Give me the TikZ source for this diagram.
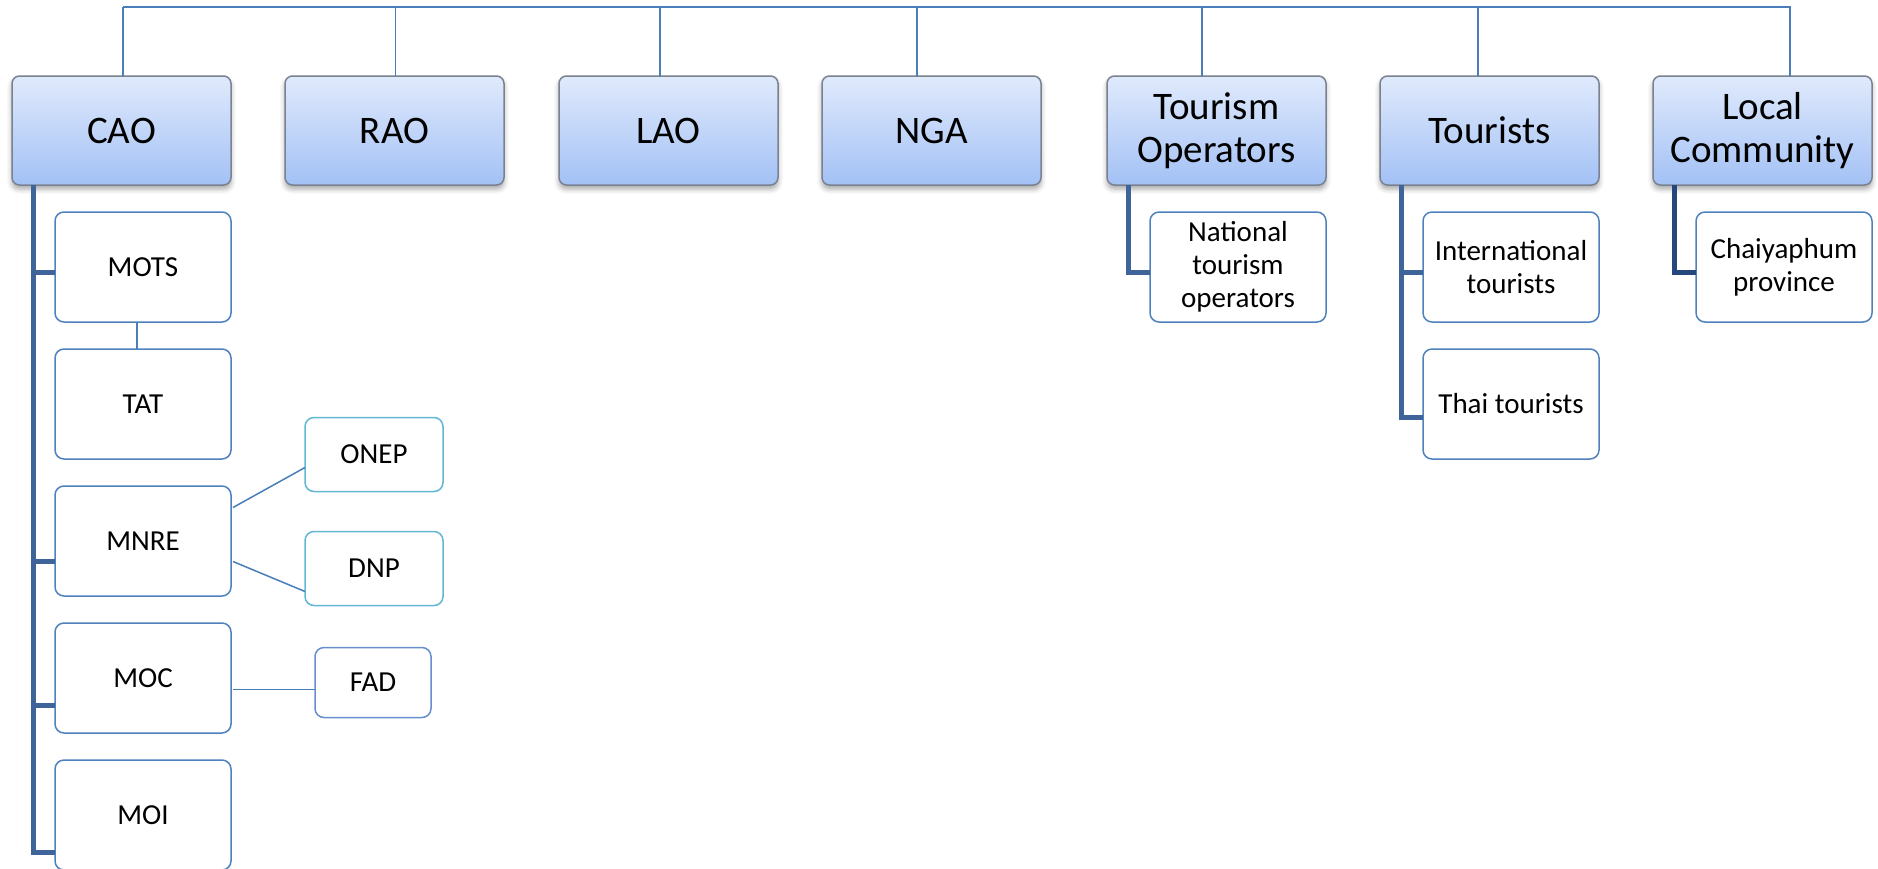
\documentclass[tikz,border=0pt]{standalone}
\usepackage{fontspec}
\setmainfont{Carlito}
\usetikzlibrary{positioning,shadows.blur}

\definecolor{linkblue}{RGB}{74,126,187}
\definecolor{trunkblue}{RGB}{62,100,153}
\definecolor{trunknavy}{RGB}{36,72,126}
\definecolor{headtop}{RGB}{224,234,252}
\definecolor{headbot}{RGB}{163,193,245}
\definecolor{headrim}{RGB}{122,130,145}
\definecolor{kidrim}{RGB}{79,129,189}
\definecolor{subrim}{RGB}{98,184,212}
\definecolor{fadrim}{RGB}{104,142,206}

\begin{document}
\begin{tikzpicture}[node distance=27pt]
    \tikzstyle{head} = [rectangle, draw=headrim, line width=0.75pt, top color=headtop, bottom color=headbot, rounded corners=3.75pt, outer sep=0pt, minimum width=109.5pt, minimum height=54.5pt, align=center, font=\fontsize{19.5pt}{21.5pt}\selectfont, blur shadow={shadow xshift=0pt, shadow yshift=-2pt, shadow blur radius=2.5pt, shadow opacity=35}]
    \tikzstyle{kid} = [rectangle, draw=kidrim, line width=0.75pt, fill=white, rounded corners=4.5pt, outer sep=0pt, minimum width=88pt, minimum height=55pt, align=center, font=\fontsize{14.5pt}{16.5pt}\selectfont]
    \tikzstyle{sub} = [kid, draw=subrim, minimum width=69pt, minimum height=37pt]
    \tikzstyle{link} = [draw=linkblue, line width=0.75pt]
    \tikzstyle{trunk} = [draw=trunkblue, line width=2.5pt]

    \useasboundingbox (0,0) rectangle (939pt,-434pt);

    \node [head] (cao) at (60.75pt,-65.25pt) {CAO};
    \node [head, right=of cao] (rao) {RAO};
    \node [head, right=27.5pt of rao] (lao) {LAO};
    \node [head, right=22pt of lao] (nga) {NGA};
    \node [head, right=33pt of nga] (ops) {Tourism\\Operators};
    \node [head, right=of ops] (tourists) {Tourists};
    \node [head, right=of tourists] (local) {Local\\Community};

    \node [kid, below=13.5pt of cao.south east, anchor=north east] (mots) {MOTS};
    \node [kid, below=13.5pt of mots] (tat) {TAT};
    \node [kid, below=13.5pt of tat] (mnre) {MNRE};
    \node [kid, below=13.5pt of mnre] (moc) {MOC};
    \node [kid, below=13.5pt of moc] (moi) {MOI};

    \node [sub, right=37pt of mnre, yshift=43.25pt] (onep) {ONEP};
    \node [sub, right=37pt of mnre, yshift=-13.75pt] (dnp) {DNP};
    \node [sub, draw=fadrim, minimum width=58pt, minimum height=35pt, right=42pt of moc, yshift=-2.25pt] (fad) {FAD};

    \node [kid, below=13.5pt of ops.south east, anchor=north east] (national) {National\\tourism\\operators};
    \node [kid, below=13.5pt of tourists.south east, anchor=north east] (intl) {International\\tourists};
    \node [kid, below=13.5pt of intl] (thai) {Thai tourists};
    \node [kid, below=13.5pt of local.south east, anchor=north east] (chaiya) {Chaiyaphum\\province};

    \coordinate (bar) at ([xshift=0.75pt, yshift=34.5pt]cao.north);
    \path [link] (bar) -- ([xshift=0.75pt]cao.north);
    \path [link] ([xshift=0.5pt]rao.north) |- (bar);
    \path [link] ([xshift=-4.25pt]lao.north) |- (bar);
    \path [link] ([xshift=-7.25pt]nga.north) |- (bar);
    \path [link] ([xshift=-7.25pt]ops.north) |- (bar);
    \path [link] ([xshift=-5.75pt]tourists.north) |- (bar);
    \path [link] ([xshift=13.75pt]local.north) |- (bar);

    \coordinate (caotrunk) at ([xshift=10.5pt]cao.south west);
    \path [trunk] ([yshift=-18.75pt]moi.west) -| (caotrunk);
    \path [trunk] ([yshift=-13.75pt]moc.west) -| (caotrunk);
    \path [trunk] ([yshift=-10.25pt]mnre.west) -| (caotrunk);
    \path [trunk] ([yshift=-2.5pt]mots.west) -| (caotrunk);
    \path [link] ([xshift=-3pt]mots.south) -- ([xshift=-3pt]tat.north);
    \path [link] ([xshift=1pt, yshift=16.75pt]mnre.east) -- ([yshift=-6.5pt]onep.west);
    \path [link] ([xshift=1pt, yshift=-10.25pt]mnre.east) -- ([yshift=-11.5pt]dnp.west);
    \path [link] ([xshift=1pt, yshift=-5.75pt]moc.east) -- ([yshift=-3.5pt]fad.west);

    \coordinate (opstrunk) at ([xshift=10.5pt]ops.south west);
    \path [trunk] ([yshift=-2.5pt]national.west) -| (opstrunk);
    \coordinate (touriststrunk) at ([xshift=10.5pt]tourists.south west);
    \path [trunk] ([yshift=-6.75pt]thai.west) -| (touriststrunk);
    \path [trunk] ([yshift=-2.5pt]intl.west) -| (touriststrunk);
    \coordinate (localtrunk) at ([xshift=10.5pt]local.south west);
    \path [trunk, draw=trunknavy] ([yshift=-2.5pt]chaiya.west) -| (localtrunk);
\end{tikzpicture}
\end{document}
